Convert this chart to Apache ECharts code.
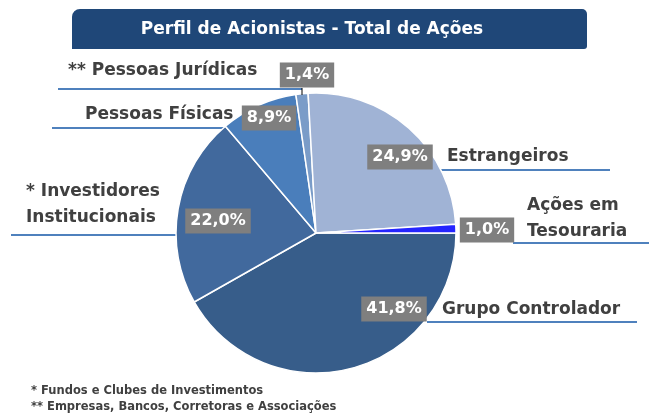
<!DOCTYPE html>
<html>
    <head>
        <title></title>
        <meta charset="UTF-8">
        <style>
            html, body { margin: 0; padding: 0; background: #ffffff; }
            #main { width: 649px; height: 414px; }
        </style>
        <script src="https://cdn.jsdelivr.net/npm/echarts@6/dist/echarts.min.js"></script>
    </head>
    <body>
        <div id="main"></div>
    </body>
    <script>
        // dados (ordem horária a partir das 3 horas)
        var categorias = ['Grupo Controlador', '* Investidores\nInstitucionais', 'Pessoas Físicas', '** Pessoas Jurídicas', 'Estrangeiros', 'Ações em\nTesouraria'];
        var percentuais = [41.8, 22.0, 8.9, 1.4, 24.9, 1.0];
        var notas = ['* Fundos e Clubes de Investimentos', '** Empresas, Bancos, Corretoras e Associações'];
        var titulo = 'Perfil de Acionistas - Total de Ações';

        var cores = ['#375d8a', '#41699d', '#4a7ebb', '#7a9cc8', '#a0b3d5', '#2424ff'];
        var fonte = '"DejaVu Sans", sans-serif';

        // posição das caixas de %, dos nomes e dos sublinhados
        var posPct = [[394, 309], [218, 221], [269, 118], [307, 75], [400, 157], [487, 230]];
        var posNome = [[442, 310], [26, 205], [85, 115], [68, 71], [447, 157], [527, 219]];
        var linhas = [[427, 637, 322], [11, 186, 235], [52, 241, 128], [58, 302, 89], [432, 610, 170], [513, 649, 243]];

        var chart = echarts.init(document.getElementById('main'));

        var graficos = [];
        // caixa do título
        graficos.push({
            type: 'rect', shape: { x: 72, y: 9, width: 515, height: 40, r: [8, 5, 3, 0] },
            style: { fill: '#1f4778' }, z: 1
        });
        graficos.push({
            type: 'text', x: 312, y: 30,
            style: { text: titulo, fill: '#fff', font: 'bold 17px ' + fonte, align: 'center', verticalAlign: 'middle' }, z: 2
        });

        for (var i = 0; i < categorias.length; i++) {
            graficos.push({
                type: 'line', shape: { x1: linhas[i][0], y1: linhas[i][2], x2: linhas[i][1], y2: linhas[i][2] },
                style: { stroke: '#4f81bd', lineWidth: 2 }, z: 0
            });
            graficos.push({
                type: 'text', x: posNome[i][0], y: posNome[i][1],
                style: {
                    text: categorias[i], fill: '#404040', font: 'bold 17px ' + fonte,
                    align: 'left', verticalAlign: 'middle', lineHeight: 26
                }, z: 2
            });
        }
        // tracinho da fatia de 1,4%
        graficos.push({
            type: 'line', shape: { x1: 302, y1: 88, x2: 302, y2: 95 },
            style: { stroke: '#000', lineWidth: 1 }, z: 3
        });

        graficos.push({
            type: 'text', x: 31, y: 391,
            style: { text: notas[0], fill: '#404040', font: 'bold 11.5px ' + fonte, align: 'left', verticalAlign: 'middle' }
        });
        graficos.push({
            type: 'text', x: 31, y: 407,
            style: { text: notas[1], fill: '#404040', font: 'bold 11.5px ' + fonte, align: 'left', verticalAlign: 'middle' }
        });

        var dados = categorias.map(function (c, i) {
            return { name: c, value: percentuais[i], itemStyle: { color: cores[i] } };
        });

        chart.setOption({
            animation: false,
            graphic: graficos,
            series: [{
                type: 'pie',
                center: [316, 233],
                radius: 140,
                startAngle: 0,
                clockwise: true,
                z: 1,
                itemStyle: { borderColor: '#ffffff', borderWidth: 1.5 },
                label: {
                    show: true,
                    position: 'inside',
                    formatter: function (p) { return p.value.toFixed(1).replace('.', ',') + '%'; },
                    backgroundColor: '#7f7f7f',
                    color: '#ffffff',
                    fontFamily: fonte,
                    fontWeight: 'bold',
                    fontSize: 16,
                    padding: [5, 5, 4, 5]
                },
                labelLine: { show: false },
                labelLayout: function (p) {
                    return { x: posPct[p.dataIndex][0], y: posPct[p.dataIndex][1], align: 'center', verticalAlign: 'middle' };
                },
                emphasis: { disabled: true },
                data: dados
            }]
        });
    </script>
</html>
